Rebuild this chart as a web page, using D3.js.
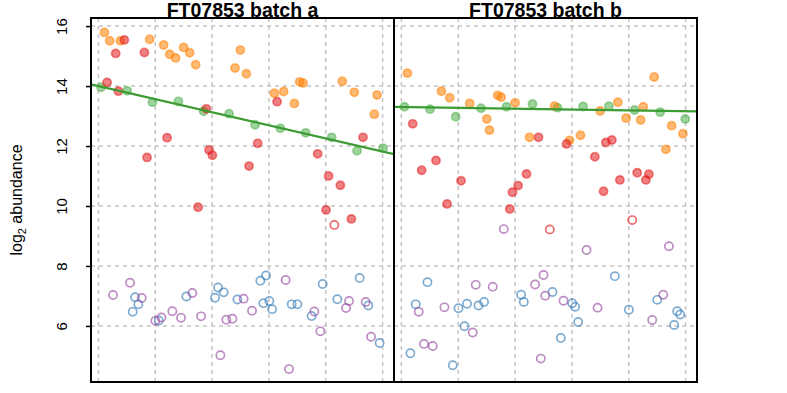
<!DOCTYPE html>
<html><head><meta charset="utf-8">
<script src="https://cdn.jsdelivr.net/npm/d3@7"></script>
<style>body{margin:0;background:#fff}svg{display:block}text{font-family:"Liberation Sans",Arial,sans-serif}</style>
</head><body>
<script>
// ---------- data ----------
const panelTitles = ["FT07853 batch a", "FT07853 batch b"];
const xTicks = [0, 10, 20, 30, 40, 50];
const yTicks = [6, 8, 10, 12, 14, 16];

// batch a
const orangeA_x = [1.06,1.99,3.87,9.02,11.48,12.54,13.59,15.0,16.06,17.11,24.04,24.97,26.03,30.95,32.59,34.47,35.4,36.0,42.91,45.02,48.54,49.02];
const orangeA_y = [15.79,15.51,15.51,15.56,15.37,15.06,14.94,15.29,15.11,14.71,14.6,15.2,14.41,13.76,13.82,13.42,14.14,14.1,14.16,13.79,13.06,13.7];
const redA_x = [1.53,3.04,3.52,4.57,8.09,8.56,12.08,17.53,18.99,19.47,20.05,26.5,28.02,31.43,38.57,40.05,40.5,41.51,42.56,44.5,46.55];
const redA_y = [14.12,15.09,13.83,15.54,15.12,11.62,12.28,9.96,13.24,11.87,11.69,11.33,12.09,13.48,11.74,9.87,11.0,9.37,10.69,9.57,12.29];
const redA_open = [17];
const greenA_x = [0.47,5.05,9.5,14.07,18.52,22.99,27.56,32.01,36.46,41.03,45.5,50.07];
const greenA_y = [13.96,13.84,13.46,13.49,13.16,13.08,12.71,12.59,12.44,12.29,11.84,11.93];
const purpleA_x = [2.58,5.57,7.62,10.02,11.08,13.01,14.54,16.53,18.06,21.46,22.51,23.57,25.55,27.03,32.94,33.53,37.99,39.04,43.56,44.09,47.01,47.96];
const purpleA_y = [7.03,7.44,6.93,6.17,6.28,6.49,6.27,7.1,6.32,5.02,6.21,6.24,6.91,6.51,7.53,4.56,6.48,5.82,6.6,6.83,6.8,5.64];
const blueA_x = [6.03,6.45,7.03,10.61,15.48,20.52,21.05,22.04,24.45,28.49,29.02,29.49,30.07,30.55,34.0,35.0,37.51,39.45,42.03,45.96,47.49,49.47];
const blueA_y = [6.47,6.96,6.72,6.18,6.98,6.94,7.28,7.12,6.88,7.51,6.76,7.68,6.83,6.56,6.72,6.72,6.33,7.4,6.89,7.6,6.68,5.43];

// batch b
const orangeB_x = [1.06,7.04,8.5,12.02,15.02,15.49,16.95,17.54,20.0,22.54,26.94,29.58,31.51,34.96,38.08,39.54,42.08,42.54,44.47,46.53,47.54,49.52];
const orangeB_y = [14.43,13.83,13.61,13.42,12.9,12.53,13.69,13.63,13.44,12.29,13.33,12.19,12.36,13.17,13.46,12.93,12.87,13.31,14.3,11.89,12.68,12.41];
const redB_x = [1.99,3.57,6.09,8.03,10.49,19.07,19.54,20.53,22.01,24.12,26.11,29.05,34.03,35.56,35.97,37.02,38.43,40.6,41.48,43.01,43.54];
const redB_y = [12.74,11.19,11.52,10.07,10.84,9.9,10.46,10.68,11.07,12.29,9.22,12.07,11.64,10.49,12.12,12.2,10.87,9.53,11.11,10.87,11.06];
const redB_open = [10, 17];
const greenB_x = [0.53,5.04,9.56,14.01,18.49,23.06,27.46,31.97,36.5,41.02,45.53,49.93];
const greenB_y = [13.31,13.23,12.98,13.26,13.31,13.4,13.28,13.32,13.33,13.2,13.13,12.9];
const purpleB_x = [3.05,3.98,5.51,7.57,12.55,13.08,16.07,18.01,23.52,24.52,25.0,25.3,28.52,32.57,34.51,44.12,46.06,47.06];
const purpleB_y = [6.47,5.4,5.33,6.62,5.78,7.37,7.31,9.23,7.38,4.91,7.7,7.01,6.84,8.53,6.61,6.2,7.04,8.66];
const blueB_x = [1.58,2.52,4.58,9.03,10.04,11.09,11.55,13.56,14.54,21.06,21.53,26.58,28.05,30.04,30.56,31.09,37.55,40.02,45.0,47.99,48.52,49.05];
const blueB_y = [5.09,6.72,7.46,4.69,6.59,5.99,6.74,6.68,6.8,7.04,6.8,7.13,5.6,6.76,6.64,6.13,7.66,6.54,6.87,6.03,6.49,6.38];

// trend line of the green feature (intercept, slope) per batch
const fitIntercept = [14.0, 13.305];
const fitSlope = [-0.0437, -0.0029];

const colors = {orange:"#FF7F00", red:"#E41A1C", green:"#4DAF4A", purple:"#984EA3", blue:"#377EB8"};

// ---------- layout ----------
const W = 787, H = 393;
const plotTop = 18, plotBottom = 382, panelW = 303, left0 = 91;

const svg = d3.select("body").append("svg").attr("width", W).attr("height", H);

const y = d3.scaleLinear().domain([4.13, 16.27]).range([plotBottom, plotTop]);

const panels = [
  {title: panelTitles[0], series: [
    {c:"green", x:greenA_x, y:greenA_y, open:[]},
    {c:"orange", x:orangeA_x, y:orangeA_y, open:[]},
    {c:"red", x:redA_x, y:redA_y, open:redA_open},
    {c:"blue", x:blueA_x, y:blueA_y, open:[], allOpen:true},
    {c:"purple", x:purpleA_x, y:purpleA_y, open:[], allOpen:true}]},
  {title: panelTitles[1], series: [
    {c:"green", x:greenB_x, y:greenB_y, open:[]},
    {c:"orange", x:orangeB_x, y:orangeB_y, open:[]},
    {c:"red", x:redB_x, y:redB_y, open:redB_open},
    {c:"blue", x:blueB_x, y:blueB_y, open:[], allOpen:true},
    {c:"purple", x:purpleB_x, y:purpleB_y, open:[], allOpen:true}]}
];

panels.forEach((p, i) => {
  const x0 = left0 + i * panelW;
  const x = d3.scaleLinear().domain([-1.3, 52.0]).range([x0, x0 + panelW]);
  const g = svg.append("g");

  // grid
  g.selectAll(".vg").data(xTicks).enter().append("line")
    .attr("x1", d => x(d)).attr("x2", d => x(d)).attr("y1", plotTop).attr("y2", plotBottom)
    .attr("stroke", "#c4c4c4").attr("stroke-width", 1.5).attr("stroke-dasharray", "4,4");
  g.selectAll(".hg").data(yTicks).enter().append("line")
    .attr("x1", x0).attr("x2", x0 + panelW).attr("y1", d => y(d)).attr("y2", d => y(d))
    .attr("stroke", "#c4c4c4").attr("stroke-width", 1.5).attr("stroke-dasharray", "4,4");

  const clip = "clip" + i;
  svg.append("clipPath").attr("id", clip).append("rect")
    .attr("x", x0).attr("y", plotTop).attr("width", panelW).attr("height", plotBottom - plotTop);
  const pg = g.append("g").attr("clip-path", `url(#${clip})`);

  p.series.forEach(s => {
    const pts = s.x.map((v, k) => ({x: v, y: s.y[k], open: !!s.allOpen || s.open.includes(k)}));
    pg.selectAll(null).data(pts).enter().append("circle")
      .attr("cx", d => x(d.x)).attr("cy", d => y(d.y)).attr("r", 4.1)
      .attr("fill", d => d.open ? "none" : colors[s.c])
      .attr("fill-opacity", 0.55)
      .attr("stroke", colors[s.c])
      .attr("stroke-opacity", d => d.open ? 0.65 : 0.5)
      .attr("stroke-width", 1.7);
  });

  // trend line
  const dom = x.domain();
  pg.append("line")
    .attr("x1", x(dom[0])).attr("y1", y(fitIntercept[i] + fitSlope[i] * dom[0]))
    .attr("x2", x(dom[1])).attr("y2", y(fitIntercept[i] + fitSlope[i] * dom[1]))
    .attr("stroke", "#3a9c33").attr("stroke-width", 2.2);

  // border
  g.append("rect").attr("x", x0).attr("y", plotTop).attr("width", panelW).attr("height", plotBottom - plotTop)
    .attr("fill", "none").attr("stroke", "#000").attr("stroke-width", 2);

  // title
  g.append("text").attr("x", x0 + panelW / 2).attr("y", 16.5)
    .attr("text-anchor", "middle").attr("font-weight", "bold").attr("font-size", 19.5)
    .text(p.title);

  if (i === 0) {
    const ax = g.append("g").attr("transform", `translate(${x0},0)`)
      .call(d3.axisLeft(y).tickValues(yTicks).tickSize(5).tickFormat(d3.format("d")));
    ax.select(".domain").remove();
    ax.selectAll(".tick line").attr("stroke-width", 1.5);
    ax.selectAll(".tick text")
      .attr("font-size", 15).attr("fill", "#000")
      .attr("font-family", '"Liberation Sans",Arial,sans-serif')
      .attr("x", null).attr("dy", null)
      .attr("text-anchor", "middle")
      .attr("transform", "translate(-24,0) rotate(-90)");
  }
});

// y axis title
const yl = svg.append("text").attr("transform", `translate(22,${(plotTop + plotBottom) / 2}) rotate(-90)`)
  .attr("text-anchor", "middle").attr("font-size", 16);
yl.append("tspan").text("log");
yl.append("tspan").attr("font-size", 11).attr("dy", 4).text("2");
yl.append("tspan").attr("dy", -4).text(" abundance");
</script>
</body></html>
